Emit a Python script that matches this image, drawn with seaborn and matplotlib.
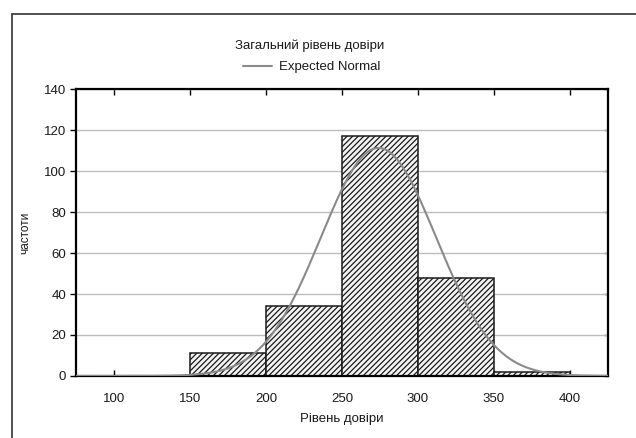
import matplotlib.pyplot as plt
import numpy as np
import seaborn as sns
from matplotlib.lines import Line2D

# bins and counts
bin_edges = [100, 150, 200, 250, 300, 350, 400]
counts = [0, 11, 34, 117, 48, 2]
bin_centers = [125, 175, 225, 275, 325, 375]

# expected normal parameters (fitted by eye)
norm_mean = 274
norm_sd = 38
n_total = sum(counts)
bin_width = 50

x_ticks = [100, 150, 200, 250, 300, 350, 400]
y_ticks = [0, 20, 40, 60, 80, 100, 120, 140]

sns.set_theme(style="white")
plt.rcParams['font.family'] = ['Liberation Sans', 'DejaVu Sans']
plt.rcParams['hatch.linewidth'] = 0.9

fig = plt.figure(figsize=(6.36, 4.38), dpi=100)
ax = fig.add_axes([0.1195, 0.1416, 0.8365, 0.655])

sns.histplot(x=bin_centers, weights=counts, bins=bin_edges, ax=ax,
             color='white', edgecolor='#1a1a1a', linewidth=1.1, alpha=1,
             zorder=2)
for p in ax.patches:
    p.set_hatch('//////')
    p.set_facecolor('#f4f4f4')

# expected normal curve
xs = np.linspace(75, 425, 400)
ys = n_total * bin_width * np.exp(-0.5 * ((xs - norm_mean) / norm_sd) ** 2) / (norm_sd * np.sqrt(2 * np.pi))
ax.plot(xs, ys, color='#8a8a8a', lw=1.5, zorder=3)

ax.set_xlim(75, 425)
ax.set_ylim(0, 140)
ax.set_xticks(x_ticks)
ax.set_yticks(y_ticks)
ax.yaxis.grid(True, color='#bdbdbd', lw=1.0)
ax.set_axisbelow(True)
ax.tick_params(axis='x', direction='in', length=4, width=1, colors='black',
               labelsize=9.5, top=True, bottom=True, pad=12,
               labelcolor='#1a1a1a')
ax.tick_params(axis='y', direction='out', length=4, width=1, colors='black',
               labelsize=9.5, left=True, right=False, pad=3,
               labelcolor='#1a1a1a')
sec = ax.secondary_yaxis('right')
sec.set_yticks(y_ticks)
sec.tick_params(direction='in', length=3, width=1, labelright=False)
sec.spines['right'].set_visible(False)

for s in ax.spines.values():
    s.set_visible(True)
    s.set_color('black')
    s.set_linewidth(1.6)

ax.set_xlabel('Рівень довіри', fontsize=9.5, color='#1a1a1a', labelpad=6)
ax.set_ylabel('частоти', fontsize=8.5, color='#1a1a1a', labelpad=9)

fig.text(0.487, 0.895, 'Загальний рівень довіри', ha='center', va='center',
         fontsize=9.5, color='#1a1a1a')
handle = Line2D([0], [0], color='#8a8a8a', lw=1.5)
fig.legend([handle], ['Expected Normal'], loc='center',
           bbox_to_anchor=(0.49, 0.847), frameon=False, fontsize=9.5,
           handlelength=2.2, handletextpad=0.5, labelcolor='#1a1a1a')

# outer frame (left and top edges visible)
fig.add_artist(Line2D([0.019, 0.019], [0.0, 0.968], color='#333333', lw=1.2))
fig.add_artist(Line2D([0.019, 1.0], [0.968, 0.968], color='#333333', lw=1.2))

plt.savefig('out.png', dpi=100)
